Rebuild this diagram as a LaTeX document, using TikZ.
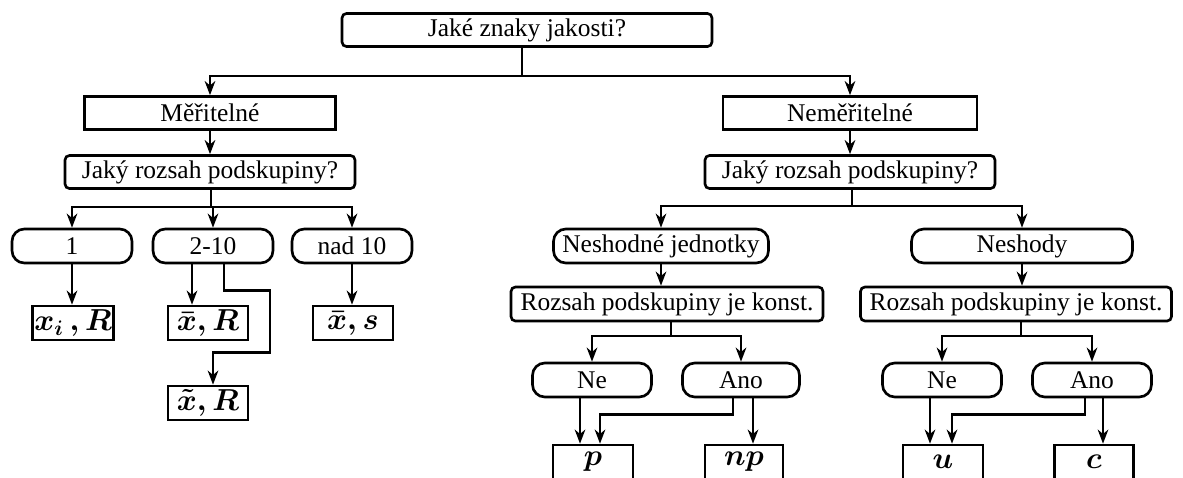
\documentclass[tikz,border=0pt]{standalone}
\usepackage{fontspec}
\setmainfont{Liberation Serif}
\usepackage{amsmath}
\usetikzlibrary{arrows.meta}

\begin{document}
\begin{tikzpicture}[x=0.02cm, y=-0.02cm, line width=1.5pt,
    >={Stealth[length=8pt,width=6pt,inset=2.5pt]},
    every node/.style={font=\fontsize{14.5}{16}\selectfont, inner sep=0pt},
    otazka/.style={draw, rounded corners=2.5pt, minimum height=0.66cm},
    znak/.style={draw, minimum height=0.66cm},
    volba/.style={draw, rounded corners=7pt, minimum height=0.68cm},
    diagram/.style={draw, minimum height=0.68cm, font=\fontsize{17}{19}\selectfont}]
  \useasboundingbox (0,0) rectangle (1183,477);
  \clip (0,0) rectangle (1183,477);
  % top
  \node[otazka, minimum width=7.4cm] (top) at (527,30) {Jaké znaky jakosti?};
  \coordinate (j0) at (522,76);
  \node[znak, minimum width=5.02cm] (mer) at (210,113) {Měřitelné};
  \node[znak, minimum width=5.08cm] (nemer) at (850,113) {Neměřitelné};
  \draw (j0 |- top.south) -- (j0);
  \draw[->] (j0) -| (mer.north);
  \draw[->] (j0) -| (nemer.north);
  % left branch
  \node[otazka, minimum width=5.8cm] (rozL) at (210,172) {Jaký rozsah podskupiny?};
  \coordinate (j1) at (211,207);
  \node[volba, minimum width=2.4cm] (o1) at (72,246) {1};
  \node[volba, minimum width=2.4cm] (o2) at (213,246) {2-10};
  \node[volba, minimum width=2.4cm] (o3) at (352,246) {nad 10};
  \node[diagram, minimum width=1.62cm] (bxi) at (73,323) {$\boldsymbol{x_i\,, R}$};
  \node[diagram, minimum width=1.6cm] (bxbar) at (208,323) {$\boldsymbol{\bar{x}, R}$};
  \node[diagram, minimum width=1.6cm] (bxs) at (353,323) {$\boldsymbol{\bar{x}, s}$};
  \node[diagram, minimum width=1.6cm] (bxt) at (208,403) {$\boldsymbol{\tilde{x}, R}$};
  \draw[->] (mer.south) -- (mer.south |- rozL.north);
  \draw (j1 |- rozL.south) -- (j1);
  \draw[->] (j1) -| (o1.north);
  \draw[->] (j1) -| (o2.north);
  \draw[->] (j1) -| (o3.north);
  \draw[->] (o1.south) -- (o1.south |- bxi.north);
  \draw[->] ([xshift=-0.42cm]o2.south) -- ([xshift=-0.42cm]o2.south |- bxbar.north);
  \draw[->] ([xshift=0.22cm]o2.south) -- ++(0,26) -- ++(46,0) -- ++(0,62)
    -| ([xshift=0.1cm]bxt.north);
  \draw[->] (o3.south) -- (o3.south |- bxs.north);
  % right branch
  \node[otazka, minimum width=5.8cm] (rozR) at (850,172) {Jaký rozsah podskupiny?};
  \coordinate (j2) at (852,206);
  \node[volba, minimum width=4.3cm] (nj) at (661,246) {Neshodné jednotky};
  \node[volba, minimum width=4.42cm] (nsh) at (1022,246) {Neshody};
  \draw[->] (nemer.south) -- (nemer.south |- rozR.north);
  \draw (j2 |- rozR.south) -- (j2);
  \draw[->] (j2) -| (nj.north);
  \draw[->] (j2) -| (nsh.north);
  % nonconforming units
  \node[otazka, minimum width=6.24cm, minimum height=0.68cm] (kL) at (667,304) {Rozsah podskupiny je konst.};
  \coordinate (j3) at (671,336);
  \node[volba, minimum width=2.38cm] (ne1) at (592,380) {Ne};
  \node[volba, minimum width=2.34cm] (an1) at (741,380) {Ano};
  \node[diagram, minimum width=1.6cm] (bp) at (593,462) {$\boldsymbol{p}$};
  \node[diagram, minimum width=1.56cm] (bnp) at (744,462) {$\boldsymbol{np}$};
  \draw[->] (nj.south) -- (nj.south |- kL.north);
  \draw (j3 |- kL.south) -- (j3);
  \draw[->] (j3) -| (ne1.north);
  \draw[->] (j3) -| (an1.north);
  \draw[->] ([xshift=-0.24cm]ne1.south) -- ([xshift=-0.24cm]ne1.south |- bp.north);
  \draw[->] ([xshift=-0.16cm]an1.south) -- ++(0,16) -| ([xshift=0.14cm]bp.north);
  \draw[->] ([xshift=0.24cm]an1.south) -- ([xshift=0.24cm]an1.south |- bnp.north);
  % nonconformities
  \node[otazka, minimum width=6.22cm, minimum height=0.68cm] (kR) at (1016,304) {Rozsah podskupiny je konst.};
  \coordinate (j4) at (1021,336);
  \node[volba, minimum width=2.38cm] (ne2) at (942,380) {Ne};
  \node[volba, minimum width=2.38cm] (an2) at (1092,380) {Ano};
  \node[diagram, minimum width=1.6cm] (bu) at (943,462) {$\boldsymbol{u}$};
  \node[diagram, minimum width=1.58cm] (bc) at (1094,462) {$\boldsymbol{c}$};
  \draw[->] (nsh.south) -- (nsh.south |- kR.north);
  \draw (j4 |- kR.south) -- (j4);
  \draw[->] (j4) -| (ne2.north);
  \draw[->] (j4) -| (an2.north);
  \draw[->] ([xshift=-0.24cm]ne2.south) -- ([xshift=-0.24cm]ne2.south |- bu.north);
  \draw[->] ([xshift=-0.14cm]an2.south) -- ++(0,16) -| ([xshift=0.18cm]bu.north);
  \draw[->] ([xshift=0.22cm]an2.south) -- ([xshift=0.22cm]an2.south |- bc.north);
\end{tikzpicture}
\end{document}
